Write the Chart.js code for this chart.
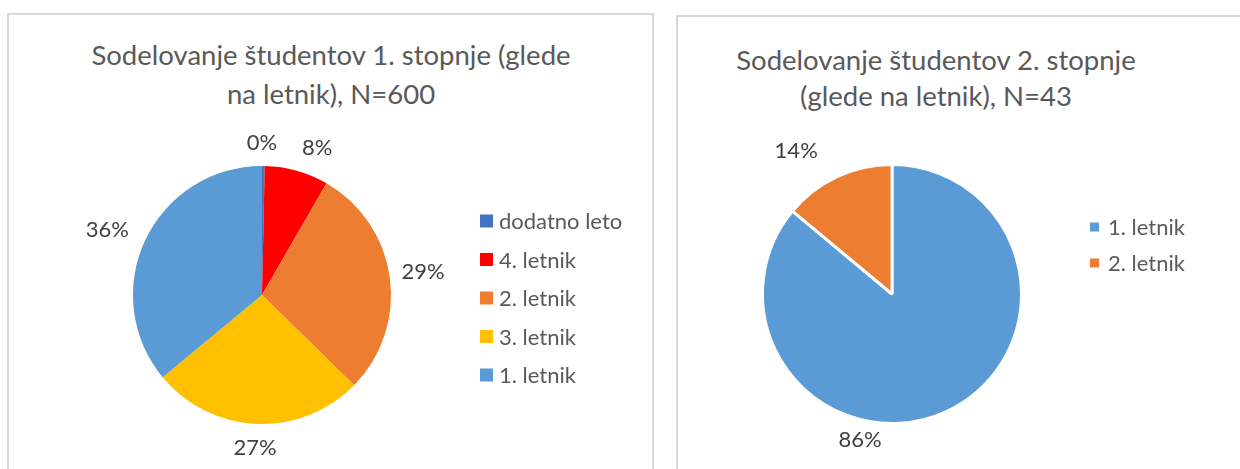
<!DOCTYPE html>
<html>
<head>
<meta charset="utf-8">
<script src="https://cdn.jsdelivr.net/npm/chart.js@4.4.0/dist/chart.umd.min.js"></script>
<style>
  body { margin: 0; width: 1240px; height: 469px; overflow: hidden; background: #fff; font-family: Lato, "Open Sans", sans-serif; }
  .panel { position: absolute; border: 2px solid #d9d9d9; background: #fff; box-sizing: border-box; }
  #p1 { left: 7px; top: 13px; width: 647px; height: 480px; }
  #p2 { left: 676px; top: 15px; width: 600px; height: 480px; }
  .title { position: absolute; color: #595959; font-size: 27.5px; line-height: 39px; text-align: center; white-space: nowrap; transform: translateX(-50%); }
  #t1 { left: 331px; top: 35px; }
  #t2 { left: 936px; top: 42px; line-height: 36px; }
  canvas { position: absolute; left: 0; top: 0; }
</style>
</head>
<body>
<div class="panel" id="p1"></div>
<div class="panel" id="p2"></div>
<div class="title" id="t1">Sodelovanje študentov 1. stopnje (glede<br>na letnik), N=600</div>
<div class="title" id="t2">Sodelovanje študentov 2. stopnje<br>(glede na letnik), N=43</div>
<canvas id="c1" width="1240" height="469"></canvas>
<canvas id="c2" width="1240" height="469"></canvas>
<script>
// 1. stopnja, N=600
const letnik1 = ["dodatno leto", "4. letnik", "2. letnik", "3. letnik", "1. letnik"];
const stevilo1 = [2, 48, 174, 160, 216];
const barve1 = ["#4472C4", "#FF0000", "#ED7D31", "#FFC000", "#5B9BD5"];

// 2. stopnja, N=43
const letnik2 = ["1. letnik", "2. letnik"];
const stevilo2 = [37, 6];
const barve2 = ["#5B9BD5", "#ED7D31"];

const FONT = 'Lato, "Open Sans", sans-serif';

// odstotki zunaj torte (kot v Excelu)
const odstotkiPlugin = {
  id: "odstotki",
  afterDatasetsDraw(chart, args, opts) {
    const ctx = chart.ctx;
    const meta = chart.getDatasetMeta(0);
    const data = chart.data.datasets[0].data;
    const total = data.reduce((a, b) => a + b, 0);
    ctx.save();
    ctx.font = opts.size + "px " + FONT;
    ctx.fillStyle = "#404040";
    ctx.textAlign = "center";
    ctx.textBaseline = "middle";
    meta.data.forEach((arc, i) => {
      const p = arc.getProps(["x", "y", "outerRadius"], true);
      const txt = Math.round(data[i] / total * 100) + "%";
      const [deg, f] = opts.mesta[i];
      const a = deg * Math.PI / 180;
      const r = p.outerRadius * f;
      ctx.fillText(txt, p.x + Math.sin(a) * r, p.y - Math.cos(a) * r);
    });
    ctx.restore();
  }
};

// legenda desno
const legendaPlugin = {
  id: "legenda",
  afterDraw(chart, args, opts) {
    const ctx = chart.ctx;
    const ds = chart.data.datasets[0];
    ctx.save();
    ctx.font = opts.size + "px " + FONT;
    ctx.textBaseline = "middle";
    chart.data.labels.forEach((lab, i) => {
      const y = opts.y + i * opts.razmik;
      ctx.fillStyle = ds.backgroundColor[i];
      ctx.fillRect(opts.x, y - opts.box / 2, opts.box, opts.box);
      ctx.fillStyle = "#595959";
      ctx.fillText(lab, opts.x + opts.box + opts.gap, y + 1);
    });
    ctx.restore();
  }
};

function torta(id, labels, data, colors, border, padding, mesta, legenda) {
  return new Chart(document.getElementById(id), {
    type: "pie",
    data: {
      labels: labels,
      datasets: [{
        data: data,
        backgroundColor: colors,
        borderColor: "#ffffff",
        borderWidth: border
      }]
    },
    options: {
      responsive: false,
      animation: false,
      layout: { padding: padding },
      plugins: {
        legend: { display: false },
        tooltip: { enabled: false },
        odstotki: { size: 22, mesta: mesta },
        legenda: legenda
      }
    },
    plugins: [odstotkiPlugin, legendaPlugin]
  });
}

torta("c1", letnik1, stevilo1, barve1, 0,
  { left: 133, right: 1240 - 391, top: 166, bottom: 469 - 424 },
  [[0, 1.18], [20.5, 1.22], [82, 1.26], [182.6, 1.19], [292.8, 1.30]],
  { x: 480, y: 221, razmik: 38.5, box: 13, gap: 6, size: 22 });

torta("c2", letnik2, stevilo2, barve2, 3,
  { left: 761, right: 1240 - 1023, top: 163, bottom: 469 - 425 },
  [[192.4, 1.15], [326.2, 1.33]],
  { x: 1090, y: 227, razmik: 36, box: 9, gap: 9, size: 22 });
</script>
</body>
</html>
